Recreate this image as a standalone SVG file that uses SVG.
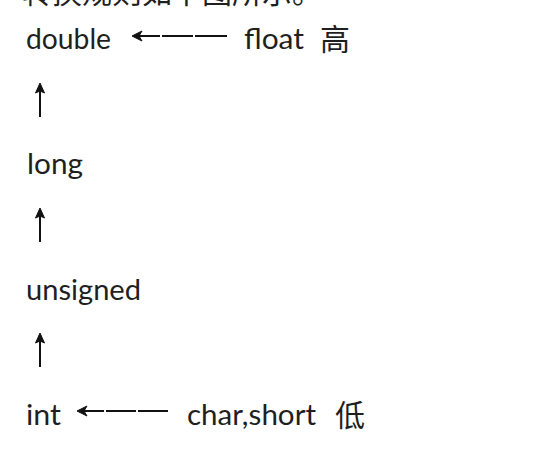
<svg xmlns="http://www.w3.org/2000/svg" width="560" height="462" viewBox="0 0 560 462">
<defs>
<style>
.t{font-family:Lato,"Open Sans","Noto Sans CJK SC",sans-serif;font-size:29px;fill:#1f1f1f}
.c{font-family:"Noto Sans CJK SC","Noto Sans CJK JP",sans-serif;font-size:30px;fill:#1f1f1f}
.ln{stroke:#111;stroke-width:2;fill:none}
.hd{fill:#111;stroke:#111;stroke-width:1;stroke-linejoin:miter}
</style>
<path id="uph" d="M0 0 L4.5 10 L0 8 L-4.5 10 Z"/>
</defs>
<rect width="560" height="462" fill="#fff"/>
<text class="c" x="22" y="3" font-size="28">转换规则如下图所示。</text>
<g id="double"><text class="t" x="26" y="49" textLength="85" lengthAdjust="spacingAndGlyphs">double</text></g>
<g id="float"><text class="t" x="244" y="49" textLength="60" lengthAdjust="spacingAndGlyphs">float</text></g>
<g id="gao"><text class="c" x="320" y="50">高</text></g>
<g id="long"><text class="t" x="27" y="174" textLength="56" lengthAdjust="spacingAndGlyphs">long</text></g>
<g id="unsigned"><text class="t" x="26" y="300" textLength="115" lengthAdjust="spacingAndGlyphs">unsigned</text></g>
<g id="int"><text class="t" x="26" y="425" textLength="35" lengthAdjust="spacingAndGlyphs">int</text></g>
<g id="charshort"><text class="t" x="187" y="425" textLength="129" lengthAdjust="spacingAndGlyphs">char,short</text></g>
<g id="di"><text class="c" x="335" y="426">低</text></g>
<g id="connectors">
<line class="ln" x1="40" y1="117" x2="40" y2="90"/>
<use href="#uph" x="40" y="83" class="hd"/>
<line class="ln" x1="40" y1="242" x2="40" y2="215"/>
<use href="#uph" x="40" y="208" class="hd"/>
<line class="ln" x1="40" y1="367" x2="40" y2="340"/>
<use href="#uph" x="40" y="333" class="hd"/>
<path class="ln" d="M134 36 H160 M162 36 H193 M195 36 H227"/>
<path d="M132 36 L142 31 L139 36 L142 41 Z" class="hd"/>
<path class="ln" d="M79 411 H104 M106 411 H136 M138 411 H168"/>
<path d="M77 411 L87 406 L84 411 L87 416 Z" class="hd"/>
</g>
</svg>
